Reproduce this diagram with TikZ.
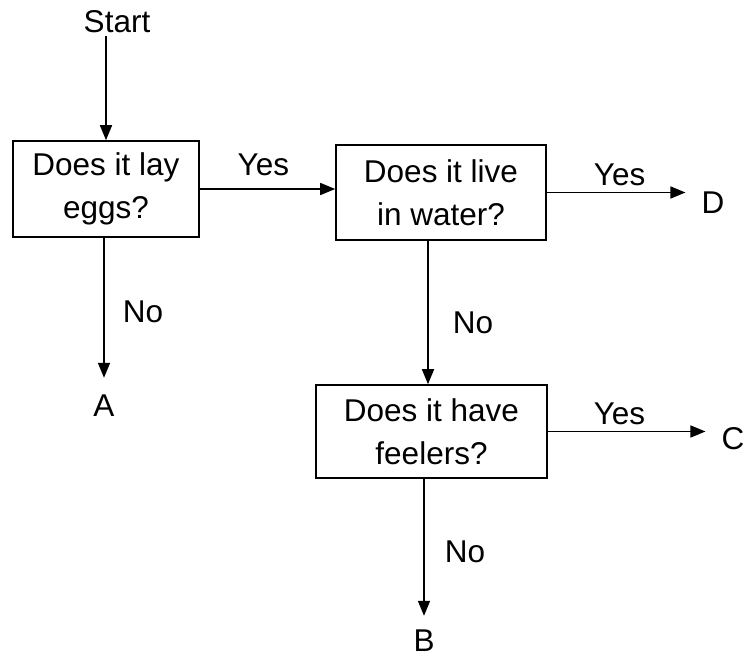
\documentclass[tikz,border=0pt]{standalone}
\usepackage{fontspec}
\setmainfont{Liberation Sans}
\usetikzlibrary{arrows.meta}
\begin{document}
\begin{tikzpicture}[x=1pt,y=-1pt,
  every node/.style={font=\fontsize{31.5}{43}\selectfont},
  qbox/.style={draw, line width=1.6pt, align=center, inner sep=0pt},
  endpt/.style={inner sep=3pt, text height=22pt, text depth=0pt},
  lbl/.style={inner sep=0pt},
  arr/.style={line width=1.6pt, -{Triangle[length=15pt,width=12pt]}},
  toend/.style={arr, shorten >=13pt}]
\useasboundingbox (0,0) rectangle (746,660);
% boxes
\node[qbox, minimum width=186pt, minimum height=96pt] (b1) at (106,189) {Does it lay\\eggs?};
\node[qbox, minimum width=210pt, minimum height=95pt] (b2) at (441,192.5) {Does it live\\in water?};
\node[qbox, minimum width=231pt, minimum height=93pt] (b3) at (431.5,431.5) {Does it have\\feelers?};
% terminals
\node[lbl, text height=22pt, text depth=0pt, inner sep=3pt] (start) at (117,22) {Start};
\node[endpt] (A) at (104,405) {A};
\node[endpt] (B) at (424,640) {B};
\node[endpt] (C) at (733,438) {C};
\node[endpt] (D) at (713,203) {D};
% connectors
\draw[arr] (start.south -| b1.north) -- (b1.north);
\draw[arr] (b1.east) -- (b2.west |- b1.east) node[lbl, pos=0.47, above=12pt] (y1) {Yes};
\draw[toend] (b2.east) -- (D.west |- b2.east) node[lbl, pos=0.48, above=6pt] (y2) {Yes};
\draw[toend] (b3.east) -- (C.west |- b3.east) node[lbl, pos=0.42, above=6pt] (y3) {Yes};
\draw[toend] (b1.south -| A) -- (A.north);
\draw[arr] ([xshift=-13pt]b2.south) -- ([xshift=-13pt]b2.south |- b3.north);
\draw[arr, shorten >=10pt] (b3.south -| B) -- (B.north);
% No labels
\node[lbl] (n1) at (143,312) {No};
\node[lbl] (n2) at (473,323) {No};
\node[lbl] (n3) at (465,552) {No};
\end{tikzpicture}
\end{document}
